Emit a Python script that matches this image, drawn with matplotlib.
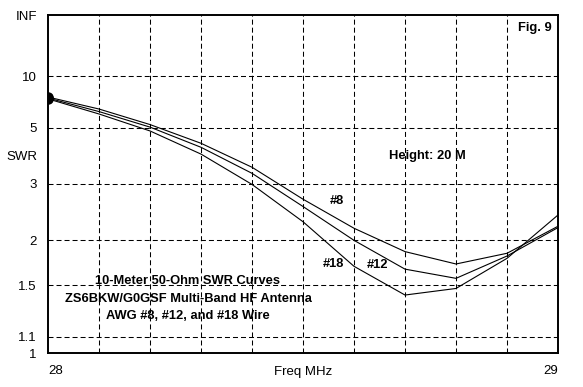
import numpy as np
import matplotlib
matplotlib.use("Agg")
import matplotlib.pyplot as plt

# ---- data ----
freqs = [28.0, 28.1, 28.2, 28.3, 28.4, 28.5, 28.6, 28.7, 28.8, 28.9, 29.0]
swr_awg8 = [7.24, 6.19, 5.17, 4.27, 3.44, 2.67, 2.17, 1.857, 1.715, 1.837, 2.20]
swr_awg12 = [7.14, 6.00, 5.03, 4.11, 3.27, 2.53, 2.00, 1.66, 1.567, 1.805, 2.18]
swr_awg18 = [7.06, 5.83, 4.83, 3.86, 2.99, 2.27, 1.69, 1.414, 1.472, 1.778, 2.38]

INF_SWR = 1e9
y_tick_values = [1, 1.1, 1.5, 2, 3, 5, 10, INF_SWR]
y_tick_labels = ["1", "1.1", "1.5", "2", "3", "5", "10", "INF"]
x_tick_values = [28.0, 28.5, 29.0]
x_tick_labels = ["28", "Freq MHz", "29"]
x_grid_values = [28.1, 28.2, 28.3, 28.4, 28.5, 28.6, 28.7, 28.8, 28.9]


def fwd(s):
    s = np.asarray(s, dtype=float)
    with np.errstate(all="ignore"):
        r = (s - 1.0) / (s + 1.0)
    return np.where(np.isinf(s), 1.0, r)


def inv(r):
    r = np.asarray(r, dtype=float)
    with np.errstate(all="ignore"):
        s = (1.0 + r) / (1.0 - r)
    return s


fig = plt.figure(figsize=(5.83, 3.87), dpi=100)
ax = fig.add_axes([48 / 583, 1 - 353 / 387, 510 / 583, 338 / 387])

ax.set_yscale("function", functions=(fwd, inv))
ax.set_xlim(28.0, 29.0)
ax.set_ylim(1.0, INF_SWR)

dash = (0, (4.8, 2.9))
for v in x_grid_values:
    ax.axvline(v, color="black", lw=0.75, ls=dash, zorder=1)
for v in y_tick_values[1:-1]:
    ax.axhline(v, color="black", lw=0.75, ls=dash, zorder=1)

for series in (swr_awg8, swr_awg12, swr_awg18):
    ax.plot(freqs, series, color="black", lw=0.8, zorder=3,
            marker="o", markevery=[0], markersize=6.5,
            markerfacecolor="black", markeredgecolor="black")

ax.set_yticks(y_tick_values)
ax.set_yticklabels(y_tick_labels)
ax.set_xticks(x_tick_values)
ax.set_xticklabels(x_tick_labels)
ax.minorticks_off()
xl = ax.get_xticklabels()
xl[0].set_ha("left")
xl[2].set_ha("right")

tick_font = "Liberation Sans"
ax.tick_params(axis="both", length=0, labelsize=9.5)
ax.tick_params(axis="y", pad=8)
ax.tick_params(axis="x", pad=9)
for lab in ax.get_xticklabels() + ax.get_yticklabels():
    lab.set_fontfamily(tick_font)

for sp in ax.spines.values():
    sp.set_linewidth(1.4)
    sp.set_color("black")
    sp.set_zorder(5)

fig.text(6 / 583, 1 - 157 / 387, "SWR", fontsize=9.5, family=tick_font,
         ha="left", va="center")

bold = dict(fontsize=9.3, fontweight="bold",
            family=["Liberation Sans Narrow", "Liberation Sans"])
ax.text(0.988, 0.9615, "Fig. 9", transform=ax.transAxes, ha="right", va="center", **bold)
ax.text(0.7445, 0.583, "Height: 20 M", transform=ax.transAxes, ha="center", va="center", **bold)
ax.text(0.566, 0.4497, "#8", transform=ax.transAxes, ha="center", va="center", **bold)
ax.text(0.560, 0.2633, "#18", transform=ax.transAxes, ha="center", va="center", **bold)
ax.text(0.6457, 0.2618, "#12", transform=ax.transAxes, ha="center", va="center", **bold)
ax.text(0.2745, 0.213, "10-Meter 50-Ohm SWR Curves", transform=ax.transAxes,
        ha="center", va="center", **bold)
ax.text(0.2745, 0.160, "ZS6BKW/G0GSF Multi-Band HF Antenna", transform=ax.transAxes,
        ha="center", va="center", **bold)
ax.text(0.2745, 0.109, "AWG #8, #12, and #18 Wire", transform=ax.transAxes,
        ha="center", va="center", **bold)

fig.savefig("out.png", dpi=100, facecolor="white")
